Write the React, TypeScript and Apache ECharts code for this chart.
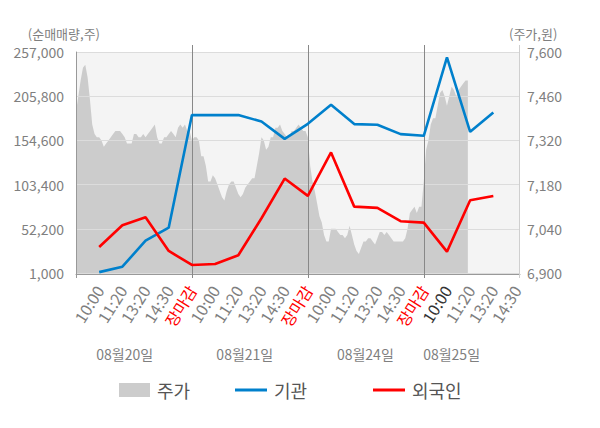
import React, { useEffect, useRef } from "react";
import * as echarts from "echarts";

// ---- data ----
const timeLabels = [
  "", "10:00", "11:20", "13:20", "14:30", "장마감",
  "10:00", "11:20", "13:20", "14:30", "장마감",
  "10:00", "11:20", "13:20", "14:30", "장마감",
  "10:00", "11:20", "13:20", "14:30",
];
const highlightLabelIndex = 16;
const dayLabels = ["08월20일", "08월21일", "08월24일", "08월25일"];
const dayBoundaries = [5, 10, 15];

// net buying (shares), one point per time label (index 1..18)
const institution = [
  2000, 8300, 38500, 53600, 183900, 183900, 183900, 176500, 156400,
  173800, 195900, 173500, 172700, 161900, 159900, 250800, 164600, 187000,
];
const foreign = [
  31200, 56300, 65600, 26500, 10300, 11400, 21500, 64400, 110400,
  90300, 140600, 77900, 76400, 61000, 59400, 25700, 85300, 90300,
];

// intraday price (KRW), sampled every 0.1 label-step
const priceStep = 0.1;
const price = [
  7410, 7460, 7510, 7550, 7560, 7520, 7450, 7370, 7340, 7330,
  7330, 7320, 7300, 7310, 7320, 7330, 7340, 7350, 7350, 7350,
  7340, 7330, 7310, 7310, 7310, 7340, 7340, 7330, 7330, 7340,
  7330, 7340, 7350, 7360, 7370, 7330, 7310, 7310, 7330, 7330,
  7340, 7350, 7340, 7330, 7360, 7370, 7360, 7370, 7350, 7350,
  7320, 7330, 7330, 7320, 7270, 7270, 7240, 7190, 7190, 7210,
  7200, 7180, 7160, 7140, 7130, 7160, 7180, 7190, 7190, 7170,
  7150, 7140, 7150, 7170, 7180, 7190, 7200, 7200, 7240, 7280,
  7330, 7320, 7290, 7300, 7330, 7330, 7360, 7360, 7370, 7350,
  7340, 7330, 7330, 7350, 7350, 7360, 7370, 7360, 7350, 7350,
  7330, 7240, 7190, 7160, 7120, 7080, 7060, 7020, 7000, 7000,
  7040, 7040, 7040, 7030, 7020, 7020, 7010, 7020, 7050, 7020,
  6990, 6970, 6960, 6980, 7000, 7000, 7010, 7010, 7000, 6990,
  7010, 7030, 7030, 7020, 7030, 7020, 7010, 7000, 7000, 7000,
  7000, 7000, 7010, 7040, 7090, 7100, 7110, 7090, 7110, 7110,
  7190, 7290, 7320, 7370, 7390, 7390, 7430, 7470, 7480, 7460,
  7430, 7460, 7490, 7480, 7460, 7480, 7490, 7500, 7510, 7510,
];

// axis scales
const volMin = 1000;
const volMax = 257000;
const volInterval = 51200;
const priceMin = 6900;
const priceMax = 7600;
const priceInterval = 140;
const xMax = 19.15;

// layout (axis units for the day captions)
const dayLabelAt = [2.1, 7.28, 12.48, 16.2];

const FONT = '"Noto Sans CJK KR", "Noto Sans", sans-serif';
const GRAY = "#7f7f7f";

export default function App() {
  const ref = useRef<HTMLDivElement>(null);

  useEffect(() => {
    if (!ref.current) return;
    const chart = echarts.init(ref.current, null, { renderer: "svg" });

    const legendBase = {
      top: 376,
      orient: "horizontal",
      icon: "rect",
      textStyle: { fontSize: 18, color: "#555", fontFamily: FONT, padding: [0, 0, 0, 2] },
      selectedMode: false,
    };

    chart.setOption({
      animation: false,
      grid: {
        left: 76,
        right: 80,
        top: 52,
        bottom: 155,
        show: true,
        backgroundColor: "#f4f4f4",
        borderWidth: 0,
      },
      legend: [
        { ...legendBase, left: 114, itemWidth: 31, itemHeight: 14, data: ["주가"] },
        { ...legendBase, left: 230, itemWidth: 32, itemHeight: 3, data: ["기관"] },
        { ...legendBase, left: 368, itemWidth: 32, itemHeight: 3, data: ["외국인"] },
      ],
      xAxis: {
        type: "value",
        min: 0,
        max: xMax,
        interval: 1,
        offset: 1,
        axisLine: { show: true, lineStyle: { color: "#999", width: 1 } },
        axisTick: { show: false },
        splitLine: { show: false },
        axisLabel: {
          rotate: 58,
          margin: 13,
          fontSize: 16,
          color: GRAY,
          fontFamily: FONT,
          showMinLabel: false,
          showMaxLabel: false,
          formatter: (v: number) => {
            const i = Math.round(v);
            const t = timeLabels[i] ?? "";
            if (!t) return "";
            if (t === "장마감") return `{red|${t}}`;
            if (i === highlightLabelIndex) return `{dark|${t}}`;
            return t;
          },
          rich: {
            red: { color: "#ff0000", fontSize: 16, fontFamily: FONT },
            dark: { color: "#333333", fontSize: 16, fontFamily: FONT },
          },
        },
      },
      yAxis: [
        {
          type: "value",
          position: "left",
          min: volMin,
          max: volMax,
          interval: volInterval,
          z: 2,
          axisLine: { show: true, lineStyle: { color: "#999", width: 1 } },
          axisTick: { show: false },
          splitLine: { show: true, lineStyle: { color: "#dcdcdc", width: 1 } },
          axisLabel: {
            margin: 12,
            fontSize: 14,
            color: GRAY,
            fontFamily: FONT,
            formatter: (v: number) => v.toLocaleString("en-US"),
          },
        },
        {
          type: "value",
          position: "right",
          min: priceMin,
          max: priceMax,
          interval: priceInterval,
          axisLine: { show: false },
          axisTick: { show: false },
          splitLine: { show: false },
          axisLabel: {
            margin: 7,
            fontSize: 14,
            color: GRAY,
            fontFamily: FONT,
            formatter: (v: number) => v.toLocaleString("en-US"),
          },
        },
      ],
      series: [
        {
          name: "주가",
          type: "line",
          yAxisIndex: 1,
          z: 1,
          symbol: "none",
          color: "#cccccc",
          lineStyle: { width: 0, color: "#cccccc" },
          areaStyle: { color: "#cccccc", opacity: 1 },
          data: price.map((p, k) => [k * priceStep, p]),
        },
        {
          name: "기관",
          type: "line",
          yAxisIndex: 0,
          z: 3,
          symbol: "none",
          color: "#0080cc",
          lineStyle: { width: 2.6, color: "#0080cc" },
          data: institution.map((v, i) => [i + 1, v]),
        },
        {
          name: "외국인",
          type: "line",
          yAxisIndex: 0,
          z: 3,
          symbol: "none",
          color: "#ff0000",
          lineStyle: { width: 2.6, color: "#ff0000" },
          data: foreign.map((v, i) => [i + 1, v]),
        },
      ],
    });

    const px = (v: number) => Math.round(chart.convertToPixel({ xAxisIndex: 0 }, v) as number) + 0.5;
    const top = chart.convertToPixel({ yAxisIndex: 0 }, volMax) as number;
    const bottom = chart.convertToPixel({ yAxisIndex: 0 }, volMin) as number;
    const graphics: any[] = [];
    dayBoundaries.forEach((b) => {
      const x = px(b);
      graphics.push({
        type: "line",
        z: 2,
        shape: { x1: x, y1: top - 7, x2: x, y2: bottom + 5 },
        style: { stroke: "#888", lineWidth: 1 },
      });
    });
    const xl = px(0);
    graphics.push({
      type: "line",
      z: 2,
      shape: { x1: xl, y1: bottom, x2: xl, y2: bottom + 5 },
      style: { stroke: "#999", lineWidth: 1 },
    });
    const xr = px(xMax) - 1;
    graphics.push({
      type: "line",
      z: 2,
      shape: { x1: xr, y1: top - 7, x2: xr, y2: bottom + 5 },
      style: { stroke: "#cfcfcf", lineWidth: 1 },
    });
    dayLabels.forEach((d, i) => {
      graphics.push({
        type: "text",
        x: chart.convertToPixel({ xAxisIndex: 0 }, dayLabelAt[i]) as number,
        y: 353.5,
        style: {
          text: d,
          fill: GRAY,
          fontSize: 14,
          fontFamily: FONT,
          textAlign: "center",
          textVerticalAlign: "middle",
        },
      });
    });
    graphics.push({
      type: "text",
      x: 100,
      y: 33,
      style: {
        text: "(순매매량,주)",
        fill: GRAY,
        fontSize: 13,
        fontFamily: FONT,
        textAlign: "right",
        textVerticalAlign: "middle",
      },
    });
    graphics.push({
      type: "text",
      x: 509,
      y: 33,
      style: {
        text: "(주가,원)",
        fill: GRAY,
        fontSize: 13,
        fontFamily: FONT,
        textAlign: "left",
        textVerticalAlign: "middle",
      },
    });
    chart.setOption({ graphic: graphics });

    return () => chart.dispose();
  }, []);

  return (
    <div
      ref={ref}
      style={{ position: "fixed", left: 0, top: 0, width: 600, height: 428, background: "#fff" }}
    />
  );
}
